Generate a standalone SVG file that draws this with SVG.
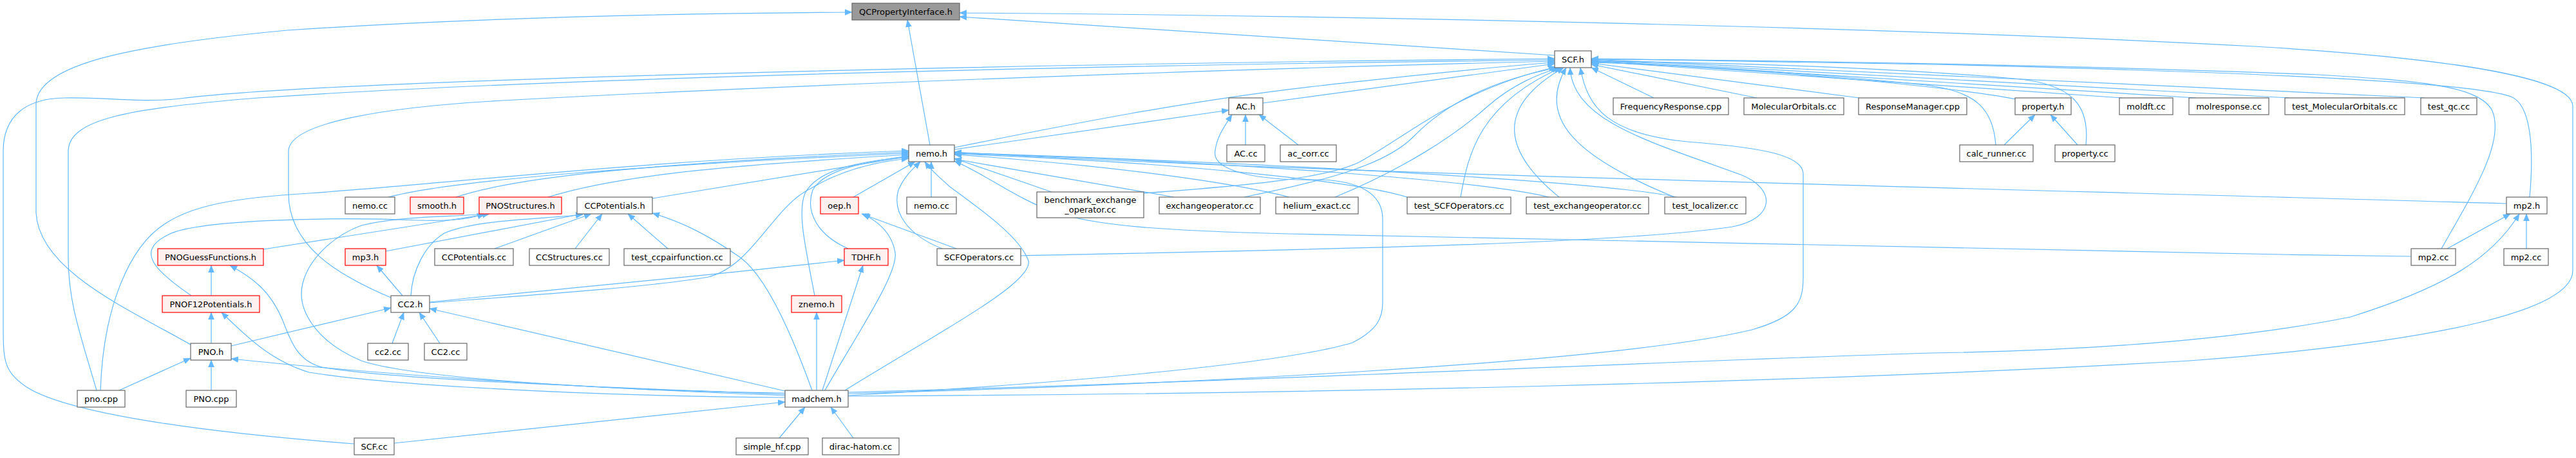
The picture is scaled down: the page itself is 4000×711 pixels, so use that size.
<svg xmlns="http://www.w3.org/2000/svg" width="4000" height="711" viewBox="0 0 4000 711">
<style>
.node rect{fill:#ffffff;stroke:#666666;stroke-width:1.2}
.root rect{fill:#999999;stroke:#666666;stroke-width:1.2}
.trunc rect{fill:#fff0f0;stroke:#ff0000;stroke-width:1.2}
text{font-family:"DejaVu Sans","Liberation Sans",sans-serif;font-size:13px;fill:#000000;text-anchor:middle}
.edges path{fill:none;stroke:#63b8ff;stroke-width:1.2;marker-end:url(#a)}
</style>
<defs>
<marker id="a" markerWidth="12" markerHeight="10" refX="11" refY="5" orient="auto" markerUnits="userSpaceOnUse"><path d="M0,0.5 L11,5 L0,9.5 z" fill="#63b8ff" stroke="#63b8ff" stroke-width="0.5"/></marker>
</defs>
<rect width="4000" height="711" fill="#ffffff"/>
<g class="edges" id="connectors">
<path d="M1444,225 L1409,31"/>
<path d="M2414,86 L1490,26"/>
<path d="M296,535 C200,480 60,420 56,330 L56,160 C60,100 200,70 446,47 C700,30 1000,21 1323,19"/>
<path d="M1317,615 C2000,612 2800,595 3400,560 C3800,530 3995,480 3995,420 L3995,165 C3995,120 3800,90 3500,72 C3000,45 2200,25 1490,20"/>
<path d="M550,689 C300,670 100,640 40,600 C5,575 5,560 5,500 L5,235 C5,180 40,153 100,152 C170,151 220,160 280,153 C500,125 1500,100 2414,91"/>
<path d="M150,606 C125,520 106,470 106,400 L106,235 C106,185 200,168 400,152 C900,118 1800,100 2414,93"/>
<path d="M607,462 C520,425 448,380 448,300 L448,235 C448,190 600,165 800,155 C1300,128 2000,105 2414,95"/>
<path d="M1482,229 C1650,195 1850,155 2050,133 C2200,117 2320,103 2414,97"/>
<path d="M1961,160 L2414,99"/>
<path d="M1585,397 C2000,388 2500,380 2690,352 C2760,338 2755,292 2705,272 C2570,222 2442,190 2438,105"/>
<path d="M1317,611 C1800,598 2500,565 2720,512 C2790,492 2800,470 2800,430 L2800,270 C2800,238 2720,228 2620,220 C2500,208 2465,170 2454,105"/>
<path d="M1776,300 C1950,287 2060,276 2110,252 C2180,215 2260,140 2416,104"/>
<path d="M1932,306 C2050,282 2150,258 2195,212 C2250,155 2330,122 2419,105"/>
<path d="M2073,306 C2180,262 2260,210 2310,165 C2350,130 2390,115 2421,105"/>
<path d="M2268,306 C2280,235 2300,160 2424,105"/>
<path d="M2421,306 C2340,240 2315,170 2428,105"/>
<path d="M2600,306 C2450,245 2385,185 2432,105"/>
<path d="M2568,152 L2471,105"/>
<path d="M2728,152 L2471,100"/>
<path d="M2887,152 L2471,98"/>
<path d="M3131,154 C3060,140 2800,110 2471,96"/>
<path d="M3295,152 L2471,95"/>
<path d="M3410,152 L2471,94"/>
<path d="M3555,152 L2471,93"/>
<path d="M3765,152 L2471,92"/>
<path d="M3099,225 C3095,170 3070,142 2990,132 C2800,112 2600,100 2471,97"/>
<path d="M3239,225 C3245,165 3220,130 3128,122 C2900,102 2650,97 2471,95"/>
<path d="M3791,386 C3840,300 3890,220 3870,172 C3850,132 3750,125 3600,116 C3200,100 2700,93 2471,92"/>
<path d="M3928,306 C3935,230 3930,162 3899,150 C3850,132 3600,114 3000,100 L2471,91"/>
<path d="M603,306 C700,280 1000,256 1411,238"/>
<path d="M708,306 C800,275 1000,254 1411,236"/>
<path d="M851,306 C950,275 1100,258 1411,240"/>
<path d="M1013,308 L1411,243"/>
<path d="M156,606 C160,480 200,380 260,345 C300,320 360,307 480,300 C700,285 1000,248 1411,234"/>
<path d="M667,470 C800,460 1000,447 1100,430 C1170,412 1200,320 1260,292 C1300,268 1350,252 1411,246"/>
<path d="M1312,606 C1450,520 1605,440 1597,405 C1585,370 1530,330 1475,290 C1455,272 1444,262 1436,251"/>
<path d="M1265,459 C1250,380 1238,330 1250,300 C1268,265 1330,250 1411,244"/>
<path d="M1317,386 C1270,365 1250,330 1262,295 C1280,262 1350,250 1411,242"/>
<path d="M1325,306 L1421,251"/>
<path d="M1446,306 L1446,251"/>
<path d="M1463,386 C1410,365 1385,330 1395,295 C1405,272 1418,262 1429,251"/>
<path d="M1633,298 L1482,246"/>
<path d="M1823,306 L1482,247"/>
<path d="M2002,306 C1900,280 1700,255 1482,240"/>
<path d="M2185,306 C2100,280 1800,250 1482,239"/>
<path d="M2405,306 C2300,280 1900,250 1482,238"/>
<path d="M2603,306 C2560,295 2300,265 1482,237"/>
<path d="M3892,316 C3000,290 2000,268 1482,236"/>
<path d="M3744,398 C3000,388 2200,368 2000,363 C1800,358 1700,350 1640,330 C1580,310 1530,270 1482,250"/>
<path d="M1934,225 L1934,178"/>
<path d="M2016,225 L1955,178"/>
<path d="M1482,232 L1908,171"/>
<path d="M1317,614 C1700,592 2000,562 2100,532 C2140,512 2147,492 2147,470 L2147,340 C2147,300 2110,281 2050,279 C1950,281 1880,265 1887,233 C1890,212 1900,198 1913,178"/>
<path d="M599,390 L905,332"/>
<path d="M768,386 L918,332"/>
<path d="M893,386 L935,332"/>
<path d="M1037,386 L975,332"/>
<path d="M638,459 C640,420 660,380 690,362 C740,340 850,340 905,333"/>
<path d="M1261,606 C1230,520 1190,430 1150,400 C1100,365 1060,345 1013,331"/>
<path d="M409,387 L760,332"/>
<path d="M297,459 C240,420 210,390 260,365 C300,342 500,336 650,342 C700,344 730,340 752,332"/>
<path d="M1219,610 C1000,608 650,590 561,560 C490,530 460,480 470,440 C480,400 520,365 561,350 C620,335 700,337 756,332"/>
<path d="M328,459 L328,412"/>
<path d="M1219,612 C900,600 600,588 500,570 C460,560 450,525 440,500 C420,450 390,430 357,412"/>
<path d="M328,533 L328,485"/>
<path d="M1219,617 C900,615 600,597 480,578 C420,560 380,520 344,485"/>
<path d="M185,606 L296,556"/>
<path d="M328,606 L328,559"/>
<path d="M1219,614 C900,602 600,582 359,557"/>
<path d="M359,537 L607,478"/>
<path d="M609,533 L627,485"/>
<path d="M683,533 L651,485"/>
<path d="M1219,607 L667,479"/>
<path d="M625,459 L585,412"/>
<path d="M667,469 C800,455 1100,428 1311,404"/>
<path d="M1277,606 L1340,412"/>
<path d="M1268,606 L1268,485"/>
<path d="M1281,606 C1330,520 1395,425 1390,392 C1385,362 1365,345 1340,332"/>
<path d="M1485,386 L1338,332"/>
<path d="M3800,386 L3898,332"/>
<path d="M3923,386 L3923,332"/>
<path d="M1317,609 C2000,590 2600,560 3000,548 C3300,543 3500,522 3650,492 C3800,445 3870,400 3912,332"/>
<path d="M3112,225 L3160,178"/>
<path d="M3226,225 L3184,178"/>
<path d="M612,688 L1219,624"/>
<path d="M1210,680 L1250,632"/>
<path d="M1325,680 L1290,632"/>
</g>
<g id="n1" class="root"><rect x="1323" y="5" width="167" height="26"/><text x="1406.5" y="22.5">QCPropertyInterface.h</text></g>
<g id="n2" class="node"><rect x="2414" y="79" width="57" height="26"/><text x="2442.5" y="96.5">SCF.h</text></g>
<g id="n3" class="node"><rect x="1411" y="225" width="71" height="26"/><text x="1446.5" y="242.5">nemo.h</text></g>
<g id="n4" class="node"><rect x="1908" y="152" width="53" height="26"/><text x="1934.5" y="169.5">AC.h</text></g>
<g id="n5" class="node"><rect x="1905" y="225" width="59" height="26"/><text x="1934.5" y="242.5">AC.cc</text></g>
<g id="n6" class="node"><rect x="1988" y="225" width="87" height="26"/><text x="2031.5" y="242.5">ac_corr.cc</text></g>
<g id="n7" class="node"><rect x="2505" y="152" width="179" height="26"/><text x="2594.5" y="169.5">FrequencyResponse.cpp</text></g>
<g id="n8" class="node"><rect x="2708" y="152" width="155" height="26"/><text x="2785.5" y="169.5">MolecularOrbitals.cc</text></g>
<g id="n9" class="node"><rect x="2886" y="152" width="168" height="26"/><text x="2970" y="169.5">ResponseManager.cpp</text></g>
<g id="n10" class="node"><rect x="3129" y="152" width="87" height="26"/><text x="3172.5" y="169.5">property.h</text></g>
<g id="n11" class="node"><rect x="3291" y="152" width="83" height="26"/><text x="3332.5" y="169.5">moldft.cc</text></g>
<g id="n12" class="node"><rect x="3399" y="152" width="124" height="26"/><text x="3461" y="169.5">molresponse.cc</text></g>
<g id="n13" class="node"><rect x="3548" y="152" width="186" height="26"/><text x="3641" y="169.5">test_MolecularOrbitals.cc</text></g>
<g id="n14" class="node"><rect x="3759" y="152" width="87" height="26"/><text x="3802.5" y="169.5">test_qc.cc</text></g>
<g id="n15" class="node"><rect x="3043" y="225" width="114" height="26"/><text x="3100" y="242.5">calc_runner.cc</text></g>
<g id="n16" class="node"><rect x="3191" y="225" width="93" height="26"/><text x="3237.5" y="242.5">property.cc</text></g>
<g id="n17" class="node"><rect x="536" y="306" width="77" height="26"/><text x="574.5" y="323.5">nemo.cc</text></g>
<g id="n18" class="trunc"><rect x="637" y="306" width="83" height="26"/><text x="678.5" y="323.5">smooth.h</text></g>
<g id="n19" class="trunc"><rect x="744" y="306" width="128" height="26"/><text x="808" y="323.5">PNOStructures.h</text></g>
<g id="n20" class="node"><rect x="896" y="306" width="117" height="26"/><text x="954.5" y="323.5">CCPotentials.h</text></g>
<g id="n21" class="trunc"><rect x="1274" y="306" width="59" height="26"/><text x="1303.5" y="323.5">oep.h</text></g>
<g id="n22" class="node"><rect x="1408" y="306" width="77" height="26"/><text x="1446.5" y="323.5">nemo.cc</text></g>
<g id="n23" class="node"><rect x="1610" y="298" width="166" height="40"/><text x="1693" y="315">benchmark_exchange</text><text x="1693" y="330">_operator.cc</text></g>
<g id="n24" class="node"><rect x="1800" y="306" width="157" height="26"/><text x="1878.5" y="323.5">exchangeoperator.cc</text></g>
<g id="n25" class="node"><rect x="1981" y="306" width="128" height="26"/><text x="2045" y="323.5">helium_exact.cc</text></g>
<g id="n26" class="node"><rect x="2185" y="306" width="161" height="26"/><text x="2265.5" y="323.5">test_SCFOperators.cc</text></g>
<g id="n27" class="node"><rect x="2370" y="306" width="190" height="26"/><text x="2465" y="323.5">test_exchangeoperator.cc</text></g>
<g id="n28" class="node"><rect x="2585" y="306" width="126" height="26"/><text x="2648" y="323.5">test_localizer.cc</text></g>
<g id="n29" class="node"><rect x="3892" y="306" width="63" height="26"/><text x="3923.5" y="323.5">mp2.h</text></g>
<g id="n30" class="trunc"><rect x="245" y="386" width="164" height="26"/><text x="327" y="403.5">PNOGuessFunctions.h</text></g>
<g id="n31" class="trunc"><rect x="536" y="386" width="63" height="26"/><text x="567.5" y="403.5">mp3.h</text></g>
<g id="n32" class="node"><rect x="675" y="386" width="122" height="26"/><text x="736" y="403.5">CCPotentials.cc</text></g>
<g id="n33" class="node"><rect x="822" y="386" width="124" height="26"/><text x="884" y="403.5">CCStructures.cc</text></g>
<g id="n34" class="node"><rect x="969" y="386" width="165" height="26"/><text x="1051.5" y="403.5">test_ccpairfunction.cc</text></g>
<g id="n35" class="trunc"><rect x="1311" y="386" width="68" height="26"/><text x="1345" y="403.5">TDHF.h</text></g>
<g id="n36" class="node"><rect x="1455" y="386" width="130" height="26"/><text x="1520" y="403.5">SCFOperators.cc</text></g>
<g id="n37" class="node"><rect x="3744" y="386" width="69" height="26"/><text x="3778.5" y="403.5">mp2.cc</text></g>
<g id="n38" class="node"><rect x="3888" y="386" width="69" height="26"/><text x="3922.5" y="403.5">mp2.cc</text></g>
<g id="n39" class="trunc"><rect x="252" y="459" width="151" height="26"/><text x="327.5" y="476.5">PNOF12Potentials.h</text></g>
<g id="n40" class="node"><rect x="607" y="459" width="60" height="26"/><text x="637" y="476.5">CC2.h</text></g>
<g id="n41" class="trunc"><rect x="1229" y="459" width="78" height="26"/><text x="1268" y="476.5">znemo.h</text></g>
<g id="n42" class="node"><rect x="296" y="533" width="63" height="26"/><text x="327.5" y="550.5">PNO.h</text></g>
<g id="n43" class="node"><rect x="571" y="533" width="63" height="26"/><text x="602.5" y="550.5">cc2.cc</text></g>
<g id="n44" class="node"><rect x="659" y="533" width="66" height="26"/><text x="692" y="550.5">CC2.cc</text></g>
<g id="n45" class="node"><rect x="120" y="606" width="74" height="26"/><text x="157" y="623.5">pno.cpp</text></g>
<g id="n46" class="node"><rect x="289" y="606" width="78" height="26"/><text x="328" y="623.5">PNO.cpp</text></g>
<g id="n47" class="node"><rect x="1219" y="606" width="98" height="26"/><text x="1268" y="623.5">madchem.h</text></g>
<g id="n48" class="node"><rect x="550" y="680" width="62" height="26"/><text x="581" y="697.5">SCF.cc</text></g>
<g id="n49" class="node"><rect x="1143" y="680" width="112" height="26"/><text x="1199" y="697.5">simple_hf.cpp</text></g>
<g id="n50" class="node"><rect x="1277" y="680" width="119" height="26"/><text x="1336.5" y="697.5">dirac-hatom.cc</text></g>
</svg>
